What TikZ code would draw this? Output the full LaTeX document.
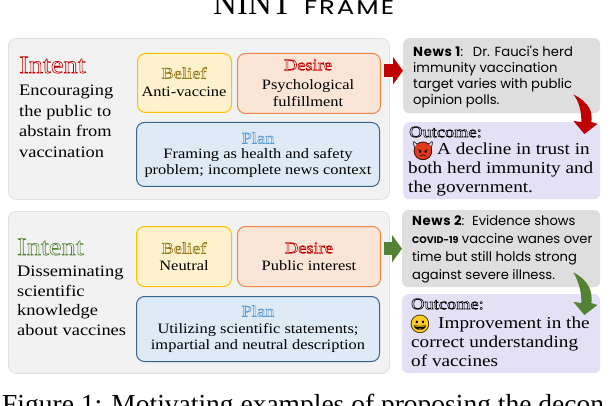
\documentclass[tikz,border=0pt]{standalone}
\usepackage{fontspec}
\setmainfont[FakeStretch=1.15]{Liberation Serif}
\newfontfamily\newsfont{Poppins}
\newfontfamily\emojifont{Noto Emoji}
\newfontfamily\capfont{Liberation Serif}
\usetikzlibrary{arrows.meta}
\definecolor{intentred}{HTML}{C00000}
\definecolor{intentgreen}{HTML}{548235}
\definecolor{beliefgold}{HTML}{967A1A}
\definecolor{planblue}{HTML}{5B9BD5}
\definecolor{beliefline}{HTML}{FFC000}
\definecolor{belieffill}{HTML}{FFF2CC}
\definecolor{desireline}{HTML}{EE8549}
\definecolor{desirefill}{HTML}{FBE5D6}
\definecolor{planline}{HTML}{3A6490}
\definecolor{planfill}{HTML}{DEEBF7}
\definecolor{outcomefill}{HTML}{E4E0F6}
\definecolor{devilred}{HTML}{E03A1A}
\definecolor{smileyellow}{HTML}{FFCC22}
% outlined heading letters
\newcommand{\hollow}[1]{\special{pdf:code q 1 Tr 0.6 w}#1\special{pdf:code Q}}
\newcommand{\newshead}[1]{{\bfseries\addfontfeature{LetterSpace=5}#1}}
\tikzset{
    panelbox/.style={draw=black!12, fill=black!5, line width=0.8pt, rounded corners=8pt, minimum width=381pt, anchor=north west},
    beliefbox/.style={draw=beliefline, fill=belieffill, line width=1pt, rounded corners=8pt, anchor=north west, align=center},
    desirebox/.style={draw=desireline, fill=desirefill, line width=1pt, rounded corners=8pt, anchor=north west, align=center},
    planbox/.style={draw=planline, fill=planfill, line width=1pt, rounded corners=8pt, anchor=north west, align=center},
    newsbox/.style={fill=black!13, rounded corners=6pt, anchor=north west, minimum width=197pt},
    outcomebox/.style={fill=outcomefill, rounded corners=6pt, anchor=north west, minimum width=197pt},
    bodytext/.style={font=\fontsize{14.3}{16.8}\selectfont, inner sep=0pt},
    headtext/.style={font=\fontsize{16}{17}\selectfont, inner sep=0pt},
    facemark/.style={circle, inner sep=-4pt, minimum size=16pt, font=\emojifont\fontsize{18}{18}\selectfont},
    movearrow/.style={-{Triangle[width=27pt,length=10pt]}, line width=13pt},
}
\newcommand{\swoop}[5]{%
    \fill[#3] ([shift={(-27,-19+#4)}]#1.south east)
        .. controls ([shift={(-10,-10+#4)}]#1.south east) and ([shift={(-8,-10+#5)}]#2.north east) .. ([shift={(-9,#5)}]#2.north east)
        -- ([shift={(-3,2+#5)}]#2.north east) -- ([shift={(-16,12+#5)}]#2.north east) -- ([shift={(-27,-1+#5)}]#2.north east)
        -- ([shift={(-19,#5)}]#2.north east)
        .. controls ([shift={(-19,-10+#5)}]#2.north east) and ([shift={(-21,-20+#5)}]#2.north east) .. ([shift={(-27,-19+#4)}]#1.south east) -- cycle;}
\begin{document}
\begin{tikzpicture}[x=1pt,y=-1pt]
    \clip (0,0) rectangle (610,406);
    \fill[white] (0,0) rectangle (610,406);
    \node[anchor=base west, inner sep=0pt, font=\fontsize{33}{33}\selectfont] at (213,15) (title) {\capfont NINT\hspace{12pt}\newsfont\fontsize{20}{25}\selectfont\addfontfeature{FakeStretch=1.3,LetterSpace=10}FRAME};
    \node[font=\fontsize{27.5}{28}\selectfont, anchor=base west, inner sep=0pt] at (2,413) (caption) {\capfont Figure 1: Motivating examples of proposing the decon};

    % top example
    \node[panelbox, minimum height=161pt] at (8,38) (panel1) {};
    \node[anchor=west, inner sep=0pt, font=\fontsize{24.8}{25}\selectfont, text=intentred] at (19,65) (intent1) {\hollow{Intent}};
    \node[anchor=north west, bodytext, font=\fontsize{16}{20.5}\selectfont, align=left] at (19,85) (goal1) {Encouraging\\the public to\\abstain from\\vaccination};
    \node[beliefbox, minimum width=94pt, minimum height=59pt] at (137,53) (belief1) {};
    \node[desirebox, minimum width=143pt, minimum height=60pt] at (237,53) (desire1) {};
    \node[planbox, minimum width=243pt, minimum height=64pt] at (136,122) (plan1) {};
    \node[headtext, text=beliefgold] at (184,73) (belieftitle1) {\hollow{Belief}};
    \node[bodytext] at (184,92) (belieftext1) {Anti-vaccine};
    \node[headtext, text=intentred] at (308,65) (desiretitle1) {\hollow{Desire}};
    \node[bodytext, align=center] at (308,93) (desiretext1) {Psychological\\fulfillment};
    \node[headtext, text=planblue] at (258,138) (plantitle1) {\hollow{Plan}};
    \node[bodytext, align=center] at (258,163) (plantext1) {Framing as health and safety\\problem; incomplete news context};
    \node[newsbox, minimum height=75pt] at (403,38) (news1) {};
    \node[anchor=north west, inner sep=0pt, align=left, font=\newsfont\fontsize{13.2}{16}\selectfont] at (413,46) (newstext1) {\newshead{News 1}:\hspace{5pt} Dr. Fauci's herd\\immunity vaccination\\target varies with public\\opinion polls.};
    \node[outcomebox, minimum height=77pt] at (403,122) (outcome1) {};
    \node[anchor=west, inner sep=0pt, font=\fontsize{16}{16}\selectfont] at (409,132) (outtitle1) {\hollow{Outcome:}};
    \node[facemark, fill=devilred] at (423,151) (face1) {👿};
    \node[anchor=base west, inner sep=0pt, font=\fontsize{16.7}{18.5}\selectfont] at (437,154.5) (outfirst1) {A decline in trust in};
    \node[anchor=north west, inner sep=0pt, align=left, font=\fontsize{16.7}{18.5}\selectfont] at (408,162) (outrest1) {both herd immunity and\\the government.};
    \draw[movearrow, intentred] ([shift={(-6,-5)}]panel1.east |- news1.west) -- ([shift={(0,-5)}]news1.west);
    \swoop{news1}{outcome1}{intentred}{0}{0}

    % bottom example
    \node[panelbox, minimum height=162pt] at (8,211) (panel2) {};
    \node[anchor=west, inner sep=0pt, font=\fontsize{24.8}{25}\selectfont, text=intentgreen] at (17,247) (intent2) {\hollow{Intent}};
    \node[anchor=north west, bodytext, font=\fontsize{16}{19.5}\selectfont, align=left] at (17,266) (goal2) {Disseminating\\scientific\\knowledge\\about vaccines};
    \node[beliefbox, minimum width=95pt, minimum height=60pt] at (136,226) (belief2) {};
    \node[desirebox, minimum width=143pt, minimum height=60pt] at (237,226) (desire2) {};
    \node[planbox, minimum width=243pt, minimum height=65pt] at (136,296) (plan2) {};
    \node[headtext, text=beliefgold] at (184,248) (belieftitle2) {\hollow{Belief}};
    \node[bodytext] at (184,266) (belieftext2) {Neutral};
    \node[headtext, text=intentred] at (309,248) (desiretitle2) {\hollow{Desire}};
    \node[bodytext] at (309,266) (desiretext2) {Public interest};
    \node[headtext, text=planblue] at (258,311) (plantitle2) {\hollow{Plan}};
    \node[bodytext, align=center] at (258,338) (plantext2) {Utilizing scientific statements;\\impartial and neutral description};
    \node[newsbox, minimum height=77pt, minimum width=198pt] at (402,210) (news2) {};
    \node[anchor=north west, inner sep=0pt, align=left, font=\newsfont\fontsize{13.1}{18}\selectfont] at (412,215.5) (newstext2) {\newshead{News 2}:\hspace{3pt} Evidence shows\\{\fontsize{9.5}{18}\selectfont\textbf{COVID-19}} vaccine wanes over\\time but still holds strong\\against severe illness.};
    \node[outcomebox, minimum height=79pt, minimum width=198pt] at (402,294) (outcome2) {};
    \node[anchor=west, inner sep=0pt, font=\fontsize{16}{16}\selectfont] at (411,304) (outtitle2) {\hollow{Outcome:}};
    \node[facemark, fill=smileyellow] at (420,324) (face2) {😀};
    \node[anchor=base west, inner sep=0pt, font=\fontsize{16.7}{19}\selectfont] at (438,328.5) (outfirst2) {Improvement in the};
    \node[anchor=north west, inner sep=0pt, align=left, font=\fontsize{16.7}{19}\selectfont] at (411,336) (outrest2) {correct understanding\\of vaccines};
    \draw[movearrow, intentgreen] ([xshift=-6pt]panel2.east |- news2.west) -- (news2.west);
    \swoop{news2}{outcome2}{intentgreen}{4}{9}
\end{tikzpicture}
\end{document}
